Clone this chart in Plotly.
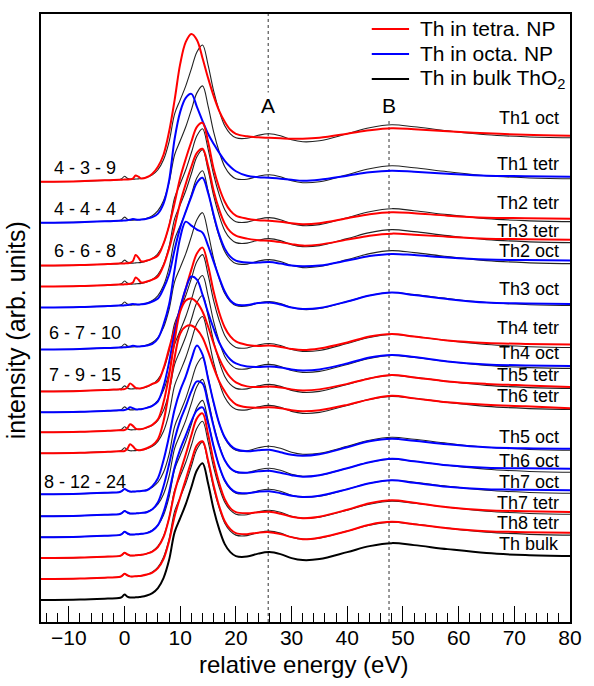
import plotly.graph_objects as go

# ---------------- data ----------------
energy = [-15, -8, -3, -1, -0.5, 0, 0.5, 1, 1.5, 2, 2.5, 3,
          4, 5, 6, 7, 8, 9, 10, 11, 12, 13, 14, 15, 16, 17, 18, 19, 20,
          22, 24, 26, 28, 30, 32, 35, 40, 44, 48, 52, 58, 65, 72, 80]

bulk = [0, 0.5, 1.5, 2, 3, 5.5, 3.5, 2.5, 2.5, 2.7, 2.9, 3.2,
        4.5, 7, 12, 22, 40, 68, 82, 96, 113, 130, 137, 117, 91, 71, 56, 48, 44,
        43.5, 46.5, 48, 46, 42, 40, 41, 48, 54, 57, 55, 51, 47, 45, 44]

th1_oct = [0, 0.5, 1.5, 2, 2, 2.2, 2.3, 2.5, 3.2, 6.3, 5, 3.3,
           4.5, 8, 15, 27, 50, 82, 118, 140, 148, 142, 124, 104, 86, 71, 60, 52, 48,
           45.5, 44.5, 44, 43.5, 43, 43, 44, 48, 51.5, 53.5, 52.5, 50.5, 48.5, 47, 46]
th1_tetr = [0, 0.5, 1.5, 2, 2, 2.2, 2.4, 3, 3.6, 3.2, 3, 3.2,
            4, 5.5, 9, 19, 42, 84, 111, 125, 129, 116, 102, 89, 79, 70, 62, 56, 51.5,
            47, 45.5, 45, 44, 43, 42, 43, 47, 50.5, 52, 51, 49, 47, 46.5, 46]
th2_tetr = [0, 0.5, 1.5, 2, 2, 2.2, 2.4, 2.8, 4.5, 10.5, 8, 4.2,
            5, 7, 10, 22, 40, 63, 88, 107, 124, 139, 143, 124, 97, 78, 64, 55, 50,
            47, 45.5, 45, 44, 42.5, 41.5, 42.5, 47.5, 51.5, 53.5, 52.5, 50, 48, 47.5, 47]
th3_tetr = [0, 0.5, 1.5, 2, 2, 2.2, 2.4, 2.8, 4, 9, 7, 4,
            5, 7, 10, 21, 38, 60, 84, 103, 120, 134, 138, 121, 96, 77, 63, 55, 51,
            48, 46.5, 46, 44.5, 42.5, 41, 42, 47, 51, 53, 52, 50, 48, 47.5, 47]
th2_oct = [0, 0.5, 1.5, 2, 2, 2.2, 2.4, 3, 3.6, 3.2, 3, 3.2,
           4, 6, 9, 19, 33, 58, 80, 96, 111, 125, 130, 115, 93, 73, 59, 51, 47,
           45, 45, 45.5, 44, 42, 41.3, 42, 47, 51.5, 53.7, 52.5, 50, 48, 47.5, 47]
th3_oct = [0, 0.5, 1.5, 2, 2, 2.2, 2.4, 3, 3.6, 3.2, 3, 3.2,
           4, 5.5, 11, 25, 45, 80, 112, 128, 124, 120, 117, 104, 88, 72, 58, 49, 45,
           44.5, 46.5, 47, 45, 42, 40.5, 41.5, 48, 54, 57, 54.5, 50.5, 47, 46, 45.5]
th4_tetr = [0, 0.5, 1.5, 2, 2, 2.3, 4, 8, 6, 3.5, 3, 3.2,
            5, 7.5, 10, 23, 43, 63, 83, 103, 122, 138, 144, 126, 100, 79, 64, 55, 50,
            46.5, 45.5, 46, 44.5, 42.5, 41.5, 43, 49, 55, 57.5, 55, 51, 48.5, 47.5, 47]
th4_oct = [0, 0.5, 1.5, 2, 2, 2.3, 3.2, 5, 4.2, 3, 3, 3.2,
           4.5, 6.5, 11, 26, 50, 80, 105, 124, 136, 133, 118, 100, 84, 70, 60, 53, 49,
           46, 45.5, 46, 45, 43, 42, 43, 49, 55, 57.5, 55.5, 51, 48, 47, 46.5]
th5_tetr = [0, 0.5, 1.5, 2, 2, 2.3, 4, 8, 6.5, 3.8, 3, 3.2,
            5, 7.5, 13, 30, 57, 92, 121, 132, 134, 130, 121, 106, 89, 74, 63, 55, 50,
            46, 45.5, 46, 45, 43, 42, 43, 48.5, 54, 57.5, 55, 51, 48.5, 47, 45.5]
th6_tetr = [0, 0.5, 1.5, 2, 2, 2.3, 4.5, 9, 7, 4, 3, 3.2,
            5, 8, 14, 32, 62, 96, 120, 127, 128, 124, 116, 102, 86, 72, 62, 54, 49,
            46, 45.5, 46, 45, 43, 42, 43, 48.5, 54, 57.5, 55, 51, 48.5, 47, 45]
th5_oct = [0, 0.5, 1.5, 2, 3, 5.3, 3.8, 2.7, 2.6, 2.8, 3, 3.3,
           4, 8, 16, 34, 58, 85, 104, 118, 135, 149, 140, 116, 92, 71, 57, 49, 45,
           43, 44, 44.5, 42, 39.5, 38.5, 40, 47, 53, 55.5, 53.5, 50, 47, 46, 45.5]
th6_oct = [0, 0.5, 1.5, 2, 3, 5.3, 3.8, 2.7, 2.6, 2.8, 3, 3.3,
           4, 7, 14, 30, 52, 77, 96, 110, 125, 135, 133, 113, 90, 70, 56, 48, 44.5,
           43.5, 45, 45.5, 43.5, 41, 39.5, 41, 48, 54, 57.5, 55, 51, 48.5, 48, 47.5]
th7_oct = [0, 0.5, 1.5, 2, 3, 5.3, 3.8, 2.7, 2.6, 2.8, 3, 3.3,
           4, 6.5, 12, 25, 45, 70, 88, 102, 116, 127, 130, 114, 91, 71, 57, 49, 45,
           44, 45.5, 46, 44, 41.5, 40.3, 41.5, 48, 54, 57, 54.5, 50.5, 48, 47.5, 47]
th7_tetr = [0, 0.5, 1.5, 2, 3, 5.3, 3.8, 2.7, 2.6, 2.8, 3, 3.3,
            4.5, 6.5, 11, 21, 40, 66, 86, 104, 123, 140, 145, 124, 97, 75, 59, 50, 46,
            45, 46, 46.5, 44.5, 41.5, 40, 41.5, 48.5, 55, 58, 55.5, 51, 48, 47, 46.3]
th8_tetr = [0, 0.5, 1.5, 2, 3, 5.3, 3.8, 2.7, 2.6, 2.8, 3, 3.3,
            4.5, 6.5, 11, 20, 38, 63, 82, 100, 118, 134, 138, 119, 94, 73, 58, 50, 46,
            45, 46.5, 47, 45, 42, 40, 41.5, 48, 54.5, 57.3, 55, 51, 48, 47, 46.3]

spectra = [th1_oct, th1_tetr, th2_tetr, th3_tetr, th2_oct, th3_oct, th4_tetr, th4_oct,
           th5_tetr, th6_tetr, th5_oct, th6_oct, th7_oct, th7_tetr, th8_tetr]
site_labels = ["Th1 oct", "Th1 tetr", "Th2 tetr", "Th3 tetr", "Th2 oct", "Th3 oct",
               "Th4 tetr", "Th4 oct", "Th5 tetr", "Th6 tetr", "Th5 oct", "Th6 oct",
               "Th7 oct", "Th7 tetr", "Th8 tetr", "Th bulk"]
particle = ["tetra", "octa", "tetra", "tetra", "octa", "octa", "tetra", "octa",
            "tetra", "tetra", "octa", "octa", "octa", "tetra", "tetra"]
stack_offset = [419, 378, 335, 314, 293, 251, 209, 188, 168, 147, 106, 84, 63, 42, 21, 0]

size_labels = ["4 - 3 - 9", "4 - 4 - 4", "6 - 6 - 8", "6 - 7 - 10", "7 - 9 - 15", "8 - 12 - 24"]
feature_names = ["A", "B"]
feature_energy = [25.8, 47.5]

# ---------------- styling / layout positions ----------------
colors = {"tetra": "#ff0000", "octa": "#0000ff", "bulk": "#000000"}
legend_names = {"tetra": "Th in tetra. NP", "octa": "Th in octa. NP",
                "bulk": "Th in bulk ThO<sub>2</sub>"}
site_label_y = [483, 437, 398, 370, 350, 312, 272, 247, 225, 204, 163, 139, 118, 97, 77, 56]
size_label_y = [433, 392, 350, 267, 225, 118]
FONT = "Liberation Sans, Arial, sans-serif"

fig = go.Figure()

# thin bulk references under each NP curve
for off in stack_offset[:-1]:
    fig.add_trace(go.Scatter(x=energy, y=[v + off for v in bulk], mode="lines",
                             line=dict(color="#222222", width=1.1, shape="spline", smoothing=1),
                             hoverinfo="skip", showlegend=False))
# NP spectra
for spec, kind, off in zip(spectra, particle, stack_offset[:-1]):
    fig.add_trace(go.Scatter(x=energy, y=[v + off for v in spec], mode="lines",
                             line=dict(color=colors[kind], width=2, shape="spline", smoothing=1),
                             showlegend=False))
# bulk ThO2
fig.add_trace(go.Scatter(x=energy, y=[v + stack_offset[-1] for v in bulk], mode="lines",
                         line=dict(color="#000000", width=2, shape="spline", smoothing=1),
                         showlegend=False))

annotations = []
for lab, yy in zip(site_labels, site_label_y):
    annotations.append(dict(x=78.3, y=yy, xref="x", yref="y", text=lab, showarrow=False,
                            xanchor="right", yanchor="middle",
                            font=dict(family=FONT, size=18, color="black")))
for lab, yy in zip(size_labels, size_label_y):
    annotations.append(dict(x=-7.1, y=yy, xref="x", yref="y", text=lab, showarrow=False,
                            xanchor="center", yanchor="middle",
                            font=dict(family=FONT, size=18, color="black")))
for name, e in zip(feature_names, feature_energy):
    annotations.append(dict(x=e, y=495, xref="x", yref="y", text=name, showarrow=False,
                            xanchor="center", yanchor="middle", bgcolor="white",
                            font=dict(family=FONT, size=21, color="black")))

shapes = []
# dotted feature lines
shapes.append(dict(type="line", xref="x", yref="paper", x0=feature_energy[0], x1=feature_energy[0],
                   y0=0, y1=1, layer="below", line=dict(color="#333333", width=1, dash="dot")))
shapes.append(dict(type="line", xref="x", yref="paper", x0=feature_energy[1], x1=feature_energy[1],
                   y0=0, y1=0.835, layer="below", line=dict(color="#333333", width=1, dash="dot")))

# legend (drawn manually)
for kind, yy in zip(["tetra", "octa", "bulk"], [572, 547, 522]):
    shapes.append(dict(type="line", xref="x", yref="y", x0=44.4, x1=51.1, y0=yy, y1=yy,
                       line=dict(color=colors[kind], width=2)))
    annotations.append(dict(x=52.7, y=yy, xref="x", yref="y", text=legend_names[kind],
                            showarrow=False, xanchor="left", yanchor="middle",
                            font=dict(family=FONT, size=21, color="black")))

# axis titles
annotations.append(dict(x=0.497, y=-0.07, xref="paper", yref="paper", text="relative energy (eV)",
                        showarrow=False, xanchor="center", yanchor="middle",
                        font=dict(family=FONT, size=24, color="black")))
annotations.append(dict(x=-0.047, y=0.48, xref="paper", yref="paper", text="intensity (arb. units)",
                        showarrow=False, xanchor="center", yanchor="middle", textangle=-90,
                        font=dict(family=FONT, size=25, color="black")))

fig.update_layout(
    width=594, height=686,
    margin=dict(l=41, r=12, t=13, b=64),
    plot_bgcolor="white", paper_bgcolor="white",
    showlegend=False,
    annotations=annotations, shapes=shapes,
    xaxis=dict(range=[-15, 80], tick0=0, dtick=10, ticks="inside", ticklen=16, tickwidth=1.3,
               tickcolor="black", showline=True, linecolor="black", linewidth=1.5, mirror=True,
               showgrid=False, zeroline=False,
               tickfont=dict(family=FONT, size=21, color="black"), ticklabelstandoff=-4,
               minor=dict(dtick=2, ticks="inside", ticklen=9, tickwidth=1.1, tickcolor="black")),
    yaxis=dict(range=[-22, 587], showticklabels=False, ticks="", showline=True, linecolor="black",
               linewidth=1.5, mirror=True, showgrid=False, zeroline=False),
)

fig.write_html("out.html", config={"displayModeBar": False},
               post_script="document.body.style.margin='0';document.body.style.overflow='hidden';")
